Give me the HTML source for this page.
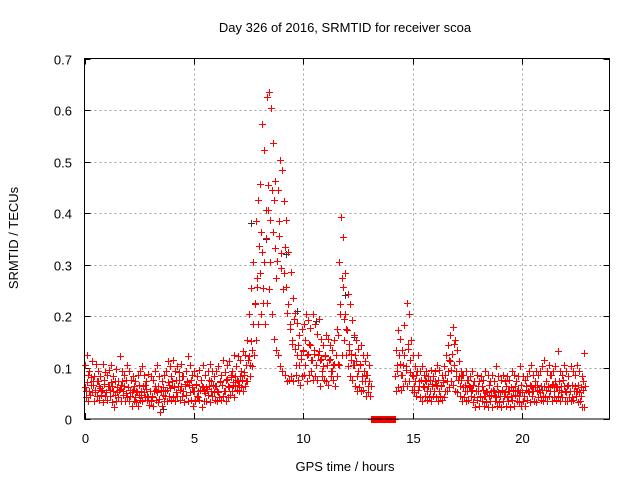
<!DOCTYPE html>
<html><head><meta charset="utf-8">
<style>
body{margin:0;background:#fff;}
svg{display:block;font-family:"Liberation Sans",sans-serif;}
</style></head>
<body>
<svg id="chart" width="640" height="480" viewBox="0 0 640 480">
<rect width="640" height="480" fill="#fff"/>
<text x="345" y="32" font-size="13" text-anchor="middle">Day 326 of 2016, SRMTID for receiver scoa</text>
<text x="345" y="471" font-size="13" text-anchor="middle">GPS time / hours</text>
<text x="0" y="0" font-size="13" text-anchor="middle" transform="translate(18,238) rotate(-90)">SRMTID / TECUs</text>
<g id="grid"></g>
<g id="ticks"></g>
<g id="black"></g>
<g id="red"></g>
<rect x="84.5" y="58.5" width="525" height="360.5" fill="none" stroke="#000" stroke-width="1"/>
</svg>
<script>
const xTicks=[0,5,10,15,20];
const yTicks=[0,0.1,0.2,0.3,0.4,0.5,0.6,0.7];
const yTickLabels=["0","0.1","0.2","0.3","0.4","0.5","0.6","0.7"];
const tStart=0, tStep=0.1;
const seriesA=[.063,.072,.054,.081,.066,.052,.074,.061,.057,.068,
.053,.064,.071,.055,.046,.062,.058,.073,.064,.051,
.062,.044,.057,.043,.052,.066,.047,.053,.058,.042,
.055,.043,.064,.052,.038,.057,.063,.045,.072,.061,
.074,.063,.052,.076,.064,.055,.067,.071,.053,.062,
.054,.067,.043,.056,.062,.051,.058,.064,.073,.052,
.065,.053,.072,.066,.054,.077,.063,.082,.071,.064,
.073,.084,.076,.092,.104,.123,.152,.185,.224,.256,
.283,.325,.304,.352,.405,.386,.364,.332,.307,.356,
.323,.284,.256,.223,.184,.153,.136,.124,.104,.117,
.132,.154,.126,.143,.115,.127,.104,.133,.116,.102,
.123,.104,.116,.094,.107,.125,.163,.224,.256,.204,
.173,.145,.126,.104,.113,.094,.106,.084,.073,.086,
.074,0,0,0,0,0,0,0,0,0,
0,0,.083,.094,.106,.085,.124,.103,.135,.092,
.084,.073,.094,.064,.076,.063,.074,.065,.054,.067,
.073,.064,.055,.066,.072,.085,.094,.113,.126,.104,
.093,.084,.075,.063,.066,.054,.063,.056,.043,.055,
.054,.043,.056,.045,.053,.044,.047,.055,.042,.053,
.044,.056,.052,.043,.054,.063,.055,.046,.057,.052,
.053,.044,.056,.052,.065,.054,.063,.066,.053,.057,
.064,.073,.062,.055,.067,.074,.063,.056,.052,.064,
.053,.066,.054,.043,.064,.055,.052,.063,.057];
const seriesB=[.104,.125,.093,.112,.084,.106,.094,.083,.107,.092,
.085,.096,.104,.083,.097,.074,.122,.093,.085,.104,
.093,.076,.084,.073,.086,.094,.103,.085,.074,.087,
.084,.076,.093,.105,.083,.074,.086,.094,.113,.102,
.115,.094,.103,.092,.106,.084,.093,.122,.104,.086,
.094,.083,.095,.076,.104,.085,.093,.106,.094,.083,
.094,.103,.086,.114,.092,.105,.113,.094,.124,.103,
.123,.114,.132,.125,.154,.203,.254,.305,.384,.425,
.456,.572,.523,.626,.634,.604,.535,.463,.445,.503,
.484,.423,.386,.324,.285,.234,.205,.186,.163,.174,
.185,.204,.193,.176,.203,.184,.165,.194,.156,.143,
.164,.155,.143,.134,.153,.174,.305,.393,.354,.284,
.243,.224,.193,.164,.154,.135,.143,.124,.113,.125,
.104,0,0,0,0,0,0,0,0,0,
0,0,.134,.173,.155,.134,.183,.226,.204,.153,
.124,.103,.125,.094,.103,.086,.094,.083,.095,.084,
.093,.104,.096,.085,.103,.124,.143,.164,.178,.153,
.134,.113,.094,.086,.093,.075,.084,.093,.074,.085,
.073,.084,.076,.093,.085,.074,.086,.073,.102,.084,
.075,.086,.073,.084,.076,.093,.085,.074,.083,.103,
.084,.076,.083,.094,.104,.085,.093,.086,.094,.103,
.114,.093,.104,.085,.094,.103,.132,.094,.085,.104,
.093,.084,.103,.094,.086,.105,.093,.084,.128];
const seriesC=[.043,.034,.046,.052,.035,.044,.036,.047,.033,.045,
.036,.044,.033,.024,.035,.043,.034,.046,.035,.043,
.034,.026,.035,.033,.025,.036,.034,.043,.036,.027,
.034,.025,.036,.033,.014,.026,.034,.035,.044,.036,
.043,.035,.044,.036,.045,.033,.046,.034,.036,.025,
.034,.045,.036,.024,.035,.034,.046,.033,.044,.036,
.034,.043,.036,.045,.034,.043,.046,.054,.043,.056,
.054,.063,.055,.064,.073,.084,.103,.124,.153,.184,
.203,.225,.184,.226,.253,.204,.156,.134,.125,.103,
.094,.085,.074,.076,.084,.073,.086,.075,.066,.084,
.085,.074,.086,.093,.075,.084,.076,.064,.083,.075,
.074,.066,.084,.075,.064,.083,.104,.125,.153,.124,
.103,.084,.075,.064,.055,.063,.054,.056,.044,.053,
.044,0,0,0,0,0,0,0,0,0,
0,0,.054,.063,.056,.064,.073,.065,.074,.056,
.053,.044,.056,.043,.035,.044,.036,.043,.034,.045,
.043,.035,.044,.036,.043,.054,.063,.074,.066,.054,
.053,.044,.035,.043,.034,.036,.044,.033,.024,.036,
.025,.034,.026,.033,.024,.035,.023,.034,.026,.033,
.024,.035,.026,.034,.023,.036,.025,.034,.033,.026,
.034,.025,.036,.033,.044,.035,.033,.043,.036,.034,
.043,.035,.044,.034,.043,.036,.044,.035,.043,.034,
.035,.043,.034,.036,.044,.033,.035,.024,.023];
const seriesD=[.054,.085,.066,.074,.056,.073,.064,.055,.076,.053,
.064,.056,.065,.074,.053,.057,.066,.054,.075,.063,
.056,.053,.065,.054,.046,.055,.064,.066,.045,.054,
.045,.054,.056,.065,.054,.046,.055,.057,.066,.084,
.065,.076,.064,.056,.084,.065,.074,.066,.075,.054,
.066,.054,.057,.065,.055,.063,.075,.054,.066,.064,
.055,.074,.066,.054,.075,.064,.085,.066,.084,.075,
.066,.094,.085,.074,.114,.105,.134,.225,.274,.335,
.364,.254,.405,.455,.304,.444,.425,.274,.385,.294,
.253,.334,.205,.174,.145,.194,.105,.144,.125,.134,
.105,.124,.145,.114,.134,.105,.125,.114,.094,.125,
.104,.115,.094,.105,.124,.106,.204,.274,.195,.174,
.134,.115,.104,.125,.084,.105,.074,.093,.085,.064,
.065,0,0,0,0,0,0,0,0,0,
0,0,.105,.124,.085,.104,.095,.145,.114,.085,
.064,.085,.074,.076,.064,.075,.054,.076,.065,.054,
.066,.075,.064,.076,.055,.074,.114,.095,.146,.084,
.075,.064,.085,.054,.076,.064,.055,.066,.054,.065,
.045,.064,.044,.055,.066,.054,.056,.045,.064,.044,
.054,.045,.064,.055,.044,.056,.065,.054,.045,.066,
.044,.065,.054,.066,.055,.074,.054,.056,.065,.045,
.056,.064,.085,.066,.054,.065,.074,.064,.075,.054,
.065,.054,.066,.055,.054,.066,.045,.074,.065];
const blackTimes=[3.6,7.6,8.3,9.2,9.7,10.6,11.9,12.3];
const blackValues=[0.02,0.38,0.35,0.32,0.21,0.19,0.24,0.16];

const X0=84.5,X1=609.5,XMIN=0,XMAX=24;
const Y0=419,Y1=58.5,YMIN=0,YMAX=0.7;
function xs(v){return X0+(v-XMIN)/(XMAX-XMIN)*(X1-X0);}
function ys(v){return Y0-(v-YMIN)/(YMAX-YMIN)*(Y0-Y1);}
const NS="http://www.w3.org/2000/svg";
const grid=document.getElementById('grid'),ticks=document.getElementById('ticks');
function mk(tag,attrs,parent){const e=document.createElementNS(NS,tag);for(const k in attrs)e.setAttribute(k,attrs[k]);parent.appendChild(e);return e;}
xTicks.forEach((t,i)=>{
  const x=Math.round(xs(t))+0.5;
  if(i>0){const g=mk('line',{x1:x,x2:x,y1:Y1,y2:Y0,stroke:'#a0a0a0','stroke-dasharray':'2,3'},grid);
  
  }
  const a=mk('line',{x1:x,x2:x,y1:Y0,y2:Y0-6,stroke:'#000'},ticks);
  
  
  const b=mk('line',{x1:x,x2:x,y1:Y1,y2:Y1+6,stroke:'#000'},ticks);
  
  
  const l=mk('text',{x:x,y:443,'font-size':13,'text-anchor':'middle'},ticks);
  l.textContent=String(t);
  
  
});
yTicks.forEach((t,i)=>{
  const y=Math.round(ys(t))+0.5;
  if(i>0&&i<yTicks.length-1){const g=mk('line',{x1:X0,x2:X1,y1:y,y2:y,stroke:'#a0a0a0','stroke-dasharray':'2,3'},grid);
  
  }
  const a=mk('line',{x1:X0,x2:X0+6,y1:y,y2:y,stroke:'#000'},ticks);
  
  
  const b=mk('line',{x1:X1,x2:X1-6,y1:y,y2:y,stroke:'#000'},ticks);
  
  
  const l=mk('text',{x:72,y:y+5,'font-size':13,'text-anchor':'end'},ticks);
  l.textContent=yTickLabels[i];
  
  
});
function plus(x,y){return 'M'+(x-3.5)+' '+y+'h7M'+x+' '+(y-3.5)+'v7';}
function drawSeries(times,vals,color,parent,name){
  let d='';
  for(let i=0;i<vals.length;i++){const x=Math.round(xs(times(i)))+0.5,y=Math.round(ys(vals[i]))+0.5;d+=plus(x,y);}
  const p=mk('path',{d:d,stroke:color,'stroke-width':1,fill:'none'},parent);
  
  
}
const blk=document.getElementById('black'),red=document.getElementById('red');
drawSeries(i=>blackTimes[i],blackValues,'#333',blk,'black-points');
drawSeries(i=>tStart+i*tStep,seriesA,'#ff0000',red,'red-points-a');
drawSeries(i=>tStart+i*tStep+0.025,seriesB,'#ff0000',red,'red-points-b');
drawSeries(i=>tStart+i*tStep+0.05,seriesC,'#ff0000',red,'red-points-c');
drawSeries(i=>tStart+i*tStep+0.075,seriesD,'#ff0000',red,'red-points-d');
</script>
</body></html>
